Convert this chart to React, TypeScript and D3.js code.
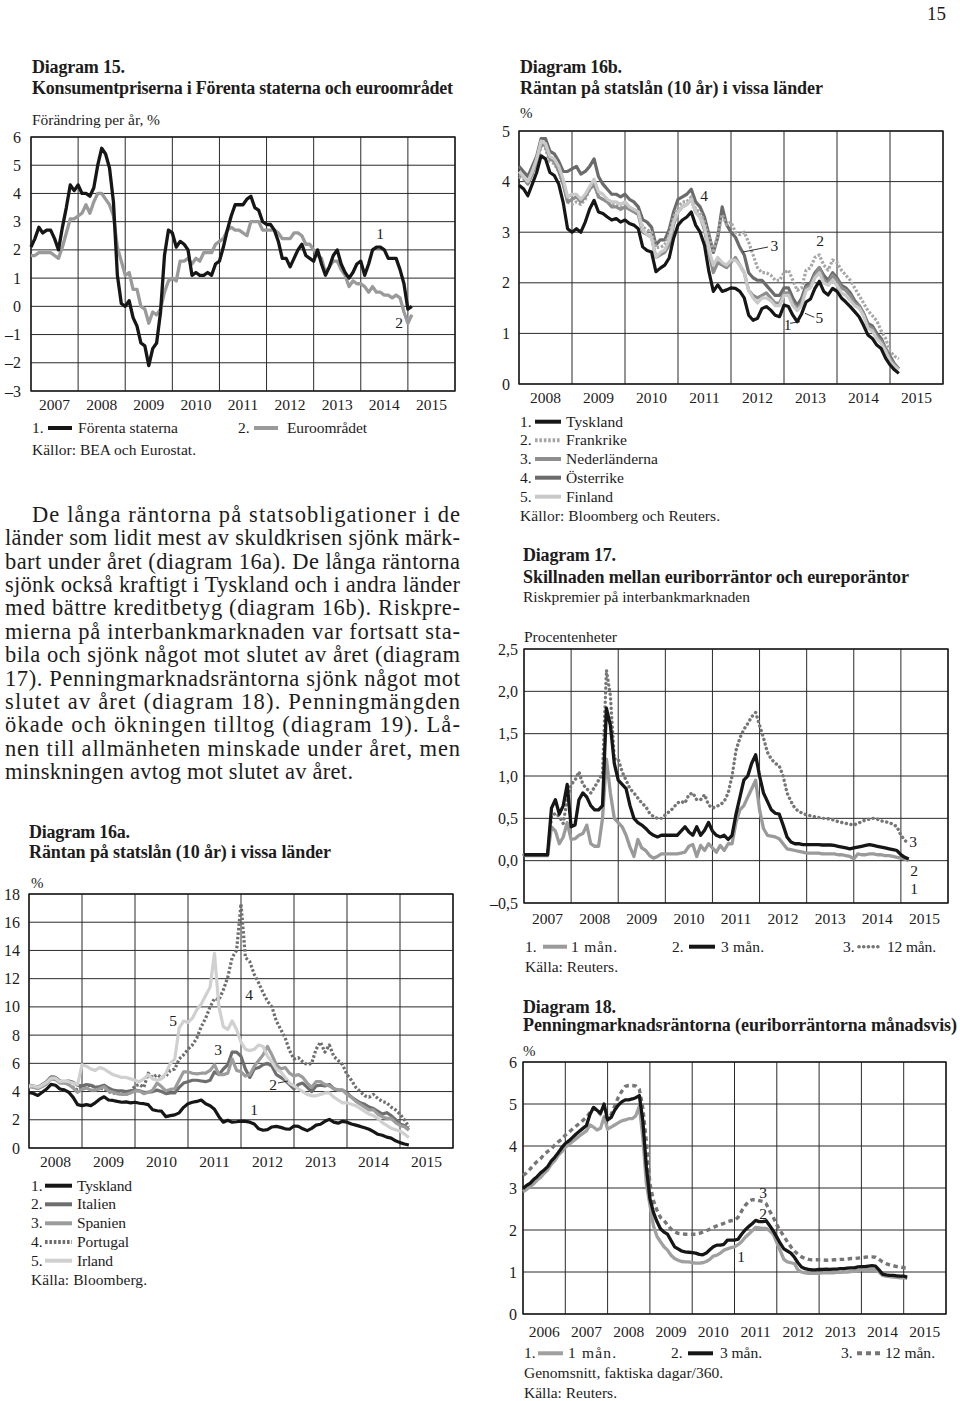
import React from 'react';
import * as d3 from 'd3';

const SERIF = "'Liberation Serif', 'Times New Roman', Times, serif";
const INK = '#1c1c1c';

// ---------- Diagram 15: CPI, yearly change %, monthly Jan 2007 – Feb 2015 ----------
const cpiStart = 2007;
const cpiUS = [
  2.1, 2.4, 2.8, 2.6, 2.7, 2.7, 2.4, 2.0, 2.8, 3.5, 4.3, 4.1,
  4.3, 4.0, 4.0, 3.9, 4.2, 5.0, 5.6, 5.4, 4.9, 3.7, 1.1, 0.1,
  0.0, 0.2, -0.4, -0.7, -1.3, -1.4, -2.1, -1.5, -1.3, -0.2, 1.8, 2.7,
  2.6, 2.1, 2.3, 2.2, 2.0, 1.1, 1.2, 1.1, 1.1, 1.2, 1.1, 1.5,
  1.6, 2.1, 2.7, 3.2, 3.6, 3.6, 3.6, 3.8, 3.9, 3.5, 3.4, 3.0,
  2.9, 2.9, 2.7, 2.3, 1.7, 1.7, 1.4, 1.7, 2.0, 2.2, 1.8, 1.7,
  1.6, 2.0, 1.5, 1.1, 1.4, 1.8, 2.0, 1.5, 1.2, 1.0, 1.2, 1.5,
  1.6, 1.1, 1.5, 2.0, 2.1, 2.1, 2.0, 1.7, 1.7, 1.7, 1.3, 0.8,
  -0.1, 0.0,
];
const cpiEuro = [
  1.8, 1.8, 1.9, 1.9, 1.9, 1.9, 1.8, 1.7, 2.1, 2.6, 3.1, 3.1,
  3.2, 3.3, 3.6, 3.3, 3.7, 4.0, 4.0, 3.8, 3.6, 3.2, 2.1, 1.6,
  1.1, 1.2, 0.6, 0.6, 0.0, -0.1, -0.6, -0.2, -0.3, -0.1, 0.5, 0.9,
  1.0, 0.9, 1.6, 1.6, 1.7, 1.5, 1.7, 1.6, 1.9, 1.9, 1.9, 2.2,
  2.3, 2.4, 2.7, 2.8, 2.7, 2.7, 2.6, 2.5, 3.0, 3.0, 3.0, 2.7,
  2.7, 2.7, 2.7, 2.6, 2.4, 2.4, 2.4, 2.6, 2.6, 2.5, 2.2, 2.2,
  2.0, 1.8, 1.7, 1.2, 1.4, 1.6, 1.6, 1.3, 1.1, 0.7, 0.9, 0.8,
  0.8, 0.7, 0.5, 0.7, 0.5, 0.5, 0.4, 0.4, 0.3, 0.4, 0.3, -0.2,
  -0.6, -0.3,
];
const ticks15 = [-3, -2, -1, 0, 1, 2, 3, 4, 5, 6];

// ---------- Diagram 16a / 16b: 10-year yields, monthly Jan 2008 – Mar 2015 ----------
const bondStart = 2008;
const bondTyskland = [
  3.93, 3.86, 3.72, 3.95, 4.18, 4.51, 4.45, 4.18, 4.12, 3.95, 3.59, 3.07,
  3.0, 3.07, 3.0, 3.2, 3.46, 3.63, 3.4, 3.37, 3.3, 3.24, 3.27, 3.2,
  3.24, 3.17, 3.14, 3.07, 2.71, 2.64, 2.61, 2.22, 2.29, 2.35, 2.49, 2.88,
  3.14, 3.24, 3.3, 3.4, 3.14, 3.0, 2.74, 2.22, 1.83, 1.96, 1.83, 1.86,
  1.9, 1.89, 1.83, 1.7, 1.36, 1.26, 1.3, 1.49, 1.53, 1.46, 1.36, 1.33,
  1.56, 1.53, 1.36, 1.23, 1.39, 1.62, 1.68, 1.89, 2.03, 1.83, 1.76, 1.89,
  1.83, 1.7, 1.62, 1.53, 1.43, 1.33, 1.16, 0.97, 0.9, 0.77, 0.7, 0.51,
  0.38, 0.28, 0.21,
];
const bondFrankrike = [
  4.1, 4.05, 3.95, 4.15, 4.35, 4.7, 4.65, 4.4, 4.35, 4.2, 3.95, 3.6,
  3.55, 3.6, 3.55, 3.65, 3.85, 3.95, 3.7, 3.65, 3.6, 3.55, 3.55, 3.5,
  3.55, 3.45, 3.45, 3.4, 3.1, 3.05, 3.0, 2.7, 2.7, 2.75, 2.95, 3.3,
  3.5, 3.6, 3.6, 3.7, 3.45, 3.4, 3.2, 2.9, 2.6, 2.95, 3.35, 3.15,
  3.2, 3.0, 2.95, 3.0, 2.8, 2.55, 2.3, 2.2, 2.2, 2.15, 2.05, 2.05,
  2.2, 2.25, 2.05, 1.85, 1.9, 2.25, 2.3, 2.5, 2.55, 2.35, 2.25, 2.45,
  2.4, 2.25, 2.15, 2.05, 1.9, 1.75, 1.6, 1.45, 1.35, 1.25, 1.05, 0.9,
  0.65, 0.55, 0.5,
];
const bondNederlanderna = [
  4.15, 4.1, 3.95, 4.15, 4.4, 4.75, 4.7, 4.45, 4.4, 4.2, 3.95, 3.6,
  3.65, 3.7, 3.6, 3.7, 3.85, 3.95, 3.7, 3.65, 3.6, 3.5, 3.5, 3.45,
  3.5, 3.45, 3.4, 3.35, 3.0, 2.95, 2.9, 2.5, 2.55, 2.6, 2.75, 3.15,
  3.4, 3.5, 3.55, 3.65, 3.4, 3.3, 3.05, 2.6, 2.2, 2.4, 2.35, 2.3,
  2.4, 2.5, 2.35, 2.2, 1.85, 1.75, 1.7, 1.75, 1.8, 1.7, 1.6, 1.6,
  1.8, 1.8, 1.6, 1.5, 1.6, 1.9, 1.95, 2.15, 2.3, 2.05, 2.0, 2.15,
  2.05, 1.9, 1.85, 1.75, 1.6, 1.55, 1.4, 1.15, 1.1, 0.95, 0.85, 0.7,
  0.5, 0.38, 0.3,
];
const bondOsterrike = [
  4.3, 4.2, 4.1, 4.3, 4.5, 4.85, 4.85, 4.6, 4.55, 4.4, 4.2, 4.2,
  4.25, 4.3, 4.15, 4.2, 4.3, 4.45, 4.1, 3.95, 3.85, 3.75, 3.75, 3.7,
  3.75, 3.65, 3.6, 3.5, 3.25, 3.2, 3.1, 2.75, 2.85, 2.85, 3.05, 3.4,
  3.65, 3.7, 3.75, 3.85, 3.6, 3.5, 3.3, 2.95, 2.6, 2.9, 3.5, 3.15,
  3.0, 2.9, 2.7, 2.55, 2.2, 2.1, 2.05, 2.05, 1.95, 1.85, 1.75, 1.75,
  1.9, 1.9, 1.7, 1.55, 1.7, 1.95, 2.0, 2.2, 2.3, 2.15, 2.05, 2.2,
  2.1, 1.95, 1.9, 1.8, 1.65, 1.55, 1.4, 1.2, 1.15, 1.0, 0.9, 0.7,
  0.55, 0.4, 0.3,
];
const bondFinland = [
  4.2, 4.1, 4.0, 4.2, 4.45, 4.8, 4.75, 4.5, 4.45, 4.3, 4.05, 3.7,
  3.75, 3.75, 3.65, 3.75, 3.9, 4.05, 3.8, 3.75, 3.65, 3.6, 3.6, 3.55,
  3.6, 3.5, 3.45, 3.4, 3.05, 2.95, 2.9, 2.5, 2.6, 2.65, 2.85, 3.2,
  3.4, 3.5, 3.55, 3.65, 3.4, 3.3, 3.1, 2.65, 2.35, 2.5, 2.4, 2.35,
  2.45, 2.45, 2.35, 2.2, 1.85, 1.7, 1.6, 1.7, 1.7, 1.65, 1.55, 1.55,
  1.75, 1.75, 1.55, 1.45, 1.55, 1.85, 1.9, 2.1, 2.2, 2.0, 1.95, 2.05,
  1.95, 1.8, 1.75, 1.65, 1.55, 1.5, 1.35, 1.1, 1.05, 0.9, 0.8, 0.65,
  0.45, 0.35, 0.28,
];
const bondItalien = [
  4.45, 4.4, 4.3, 4.5, 4.7, 5.05, 5.0, 4.75, 4.7, 4.75, 4.65, 4.45,
  4.4, 4.5, 4.45, 4.3, 4.35, 4.45, 4.25, 4.1, 4.05, 4.05, 4.0, 4.05,
  4.1, 4.05, 3.95, 3.95, 4.0, 4.1, 4.0, 3.85, 3.9, 3.9, 4.3, 4.6,
  4.7, 4.8, 4.8, 4.75, 4.7, 4.8, 5.4, 5.2, 5.6, 5.9, 6.8, 6.8,
  6.5, 5.6, 5.0, 5.6, 5.7, 5.9, 6.0, 5.8, 5.2, 5.0, 4.8, 4.5,
  4.2, 4.5, 4.6, 4.3, 4.0, 4.4, 4.45, 4.4, 4.5, 4.2, 4.1, 4.1,
  3.9, 3.6, 3.4, 3.2, 3.1, 2.9, 2.8, 2.6, 2.4, 2.5, 2.3, 2.0,
  1.7, 1.6, 1.3,
];
const bondSpanien = [
  4.35, 4.3, 4.2, 4.35, 4.55, 4.9, 4.85, 4.6, 4.6, 4.5, 4.25, 3.95,
  4.15, 4.25, 4.1, 4.1, 4.2, 4.35, 4.05, 3.95, 3.85, 3.8, 3.8, 3.9,
  4.05, 4.05, 3.85, 3.95, 4.1, 4.6, 4.35, 4.05, 4.15, 4.2, 4.8, 5.4,
  5.4, 5.3, 5.25, 5.3, 5.3, 5.5, 5.9, 5.2, 5.2, 5.3, 6.3, 5.5,
  5.4, 5.1, 5.2, 5.8, 6.2, 6.6, 7.2, 6.6, 5.9, 5.6, 5.7, 5.3,
  5.1, 5.2, 5.0, 4.6, 4.3, 4.7, 4.7, 4.5, 4.4, 4.2, 4.1, 4.1,
  3.8, 3.6, 3.3, 3.1, 2.9, 2.7, 2.7, 2.4, 2.2, 2.1, 2.1, 1.8,
  1.6, 1.5, 1.25,
];
const bondPortugal = [
  4.4, 4.35, 4.3, 4.45, 4.6, 5.0, 5.0, 4.7, 4.65, 4.5, 4.3, 4.1,
  4.3, 4.4, 4.45, 4.3, 4.2, 4.2, 4.0, 3.9, 3.85, 3.85, 3.8, 4.0,
  4.4, 4.5, 4.3, 5.3, 5.0, 5.2, 5.0, 5.1, 5.5, 5.6, 6.3, 6.6,
  7.0, 7.3, 7.8, 8.6, 9.2, 10.0, 10.6, 10.5, 11.2, 12.1, 13.5, 14.0,
  17.3, 13.5, 13.2, 12.3, 11.7, 11.0, 10.4, 10.0, 9.0, 8.4, 7.8, 6.9,
  6.3, 6.4, 6.1, 5.9, 6.0, 7.0, 7.5, 6.8, 7.3, 6.5, 6.2, 5.9,
  5.2, 4.8, 4.3, 4.0, 3.7, 3.6, 3.8, 3.5, 3.3, 3.2, 2.9, 2.7,
  2.4, 2.0, 1.5,
];
const bondIrland = [
  4.4, 4.4, 4.3, 4.45, 4.65, 4.95, 4.95, 4.7, 4.75, 4.7, 4.6, 4.5,
  5.9, 5.8, 5.6, 5.5, 5.7, 5.6, 5.4, 5.2, 5.1, 5.0, 5.0, 4.9,
  4.8, 4.7, 4.9, 5.2, 4.9, 4.8, 4.9, 5.3, 6.0, 6.3, 8.5, 9.0,
  8.9, 9.2, 9.8, 10.2, 10.8, 11.4, 13.8, 10.0, 8.6, 8.4, 9.0, 8.4,
  7.5, 7.0, 6.9, 7.0, 7.3, 7.2, 6.5, 6.1, 5.6, 5.4, 5.0, 4.6,
  4.4, 4.2, 4.0, 3.8, 3.7, 3.7, 3.8, 3.9, 3.9, 3.6, 3.4, 3.2,
  3.2, 3.1, 3.0, 2.8, 2.6, 2.4, 2.3, 2.1, 1.8, 1.6, 1.4, 1.3,
  1.2, 1.0, 0.75,
];
const ticks16a = [0, 2, 4, 6, 8, 10, 12, 14, 16, 18];
const ticks16b = [0, 1, 2, 3, 4, 5];

// ---------- Diagram 17: euribor minus eurepo, monthly Jan 2007 – Mar 2015 ----------
const spreadStart = 2007;
const spread1m = [
  0.06, 0.06, 0.06, 0.06, 0.06, 0.06, 0.06, 0.40, 0.35, 0.20, 0.28, 0.45,
  0.25, 0.26, 0.30, 0.32, 0.42, 0.20, 0.17, 0.17, 0.50, 1.20, 0.80, 0.50,
  0.45, 0.40, 0.30, 0.16, 0.05, 0.25, 0.15, 0.12, 0.06, 0.03, 0.05, 0.08,
  0.08, 0.08, 0.08, 0.08, 0.09, 0.10, 0.17, 0.19, 0.05, 0.18, 0.12, 0.20,
  0.15, 0.10, 0.18, 0.12, 0.20, 0.20, 0.45, 0.60, 0.65, 0.75, 0.85, 0.95,
  0.60, 0.38, 0.30, 0.29, 0.28, 0.26, 0.20, 0.14, 0.13, 0.12, 0.11, 0.10,
  0.09, 0.09, 0.09, 0.09, 0.08, 0.08, 0.08, 0.08, 0.07, 0.07, 0.06, 0.05,
  0.02, 0.08, 0.07, 0.07, 0.08, 0.08, 0.07, 0.07, 0.06, 0.06, 0.05, 0.04,
  0.03, 0.02, 0.00,
];
const spread3m = [
  0.07, 0.07, 0.07, 0.07, 0.07, 0.07, 0.07, 0.62, 0.72, 0.55, 0.65, 0.90,
  0.40, 0.42, 0.72, 0.80, 0.75, 0.65, 0.60, 0.60, 0.65, 1.80, 1.60, 1.15,
  0.95, 0.90, 0.85, 0.65, 0.50, 0.45, 0.42, 0.38, 0.33, 0.30, 0.28, 0.30,
  0.30, 0.30, 0.30, 0.30, 0.35, 0.40, 0.34, 0.30, 0.40, 0.30, 0.36, 0.45,
  0.35, 0.30, 0.28, 0.30, 0.25, 0.30, 0.55, 0.75, 0.95, 1.00, 1.15, 1.25,
  1.00, 0.80, 0.70, 0.60, 0.56, 0.55, 0.42, 0.28, 0.22, 0.20, 0.20, 0.19,
  0.19, 0.19, 0.19, 0.19, 0.185, 0.185, 0.185, 0.18, 0.17, 0.16, 0.15, 0.14,
  0.15, 0.16, 0.17, 0.18, 0.19, 0.18, 0.17, 0.16, 0.15, 0.14, 0.13, 0.12,
  0.07, 0.04, 0.02,
];
const spread12m = [
  0.07, 0.07, 0.07, 0.07, 0.07, 0.07, 0.07, 0.52, 0.56, 0.52, 0.44, 0.72,
  0.90, 0.95, 1.05, 0.90, 0.85, 0.80, 0.87, 0.95, 1.03, 2.25, 1.95, 1.20,
  1.20, 1.05, 0.95, 0.85, 0.80, 0.74, 0.68, 0.64, 0.56, 0.52, 0.50, 0.50,
  0.54, 0.58, 0.62, 0.68, 0.70, 0.68, 0.78, 0.80, 0.72, 0.72, 0.78, 0.66,
  0.62, 0.64, 0.66, 0.70, 0.80, 1.00, 1.30, 1.45, 1.55, 1.62, 1.70, 1.75,
  1.60, 1.45, 1.28, 1.20, 1.15, 1.12, 1.00, 0.80, 0.70, 0.62, 0.58, 0.56,
  0.54, 0.53, 0.52, 0.51, 0.50, 0.50, 0.49, 0.48, 0.46, 0.45, 0.44, 0.43,
  0.42, 0.44, 0.46, 0.48, 0.49, 0.50, 0.49, 0.47, 0.46, 0.45, 0.43, 0.40,
  0.30, 0.24, 0.20,
];
const ticks17 = [-0.5, 0, 0.5, 1, 1.5, 2, 2.5];

// ---------- Diagram 18: euribor rates, monthly Jan 2006 – Feb 2015 ----------
const euriborStart = 2006;
const euribor1m = [
  2.91, 2.96, 3.04, 3.10, 3.19, 3.25, 3.35, 3.43, 3.56, 3.65, 3.78, 3.86,
  3.97, 4.03, 4.10, 4.17, 4.24, 4.30, 4.36, 4.50, 4.45, 4.38, 4.42, 4.70,
  4.40, 4.45, 4.50, 4.55, 4.60, 4.62, 4.65, 4.65, 4.72, 4.95, 4.20, 3.10,
  2.60, 2.10, 1.85, 1.72, 1.60, 1.52, 1.40, 1.32, 1.28, 1.25, 1.24, 1.24,
  1.22, 1.21, 1.21, 1.22, 1.25, 1.30, 1.38, 1.40, 1.45, 1.52, 1.55, 1.58,
  1.60, 1.65, 1.72, 1.82, 1.90, 1.98, 2.06, 2.05, 2.04, 2.04, 1.98, 1.90,
  1.70, 1.50, 1.30, 1.24, 1.22, 1.20, 1.05, 1.00, 0.98, 0.97, 0.97, 0.97,
  0.97, 0.98, 0.98, 0.98, 0.98, 0.99, 0.99, 1.00, 1.00, 1.01, 1.02, 1.04,
  1.05, 1.05, 1.06, 1.06, 1.05, 1.00, 0.92, 0.90, 0.89, 0.88, 0.87, 0.86,
  0.86, 0.85,
];
const euribor3m = [
  2.99, 3.06, 3.11, 3.20, 3.27, 3.36, 3.43, 3.51, 3.64, 3.73, 3.84, 3.96,
  4.06, 4.12, 4.20, 4.28, 4.35, 4.42, 4.49, 4.75, 4.92, 4.85, 4.78, 5.00,
  4.62, 4.68, 4.85, 4.97, 5.05, 5.10, 5.10, 5.12, 5.15, 5.20, 4.60, 3.50,
  2.75, 2.42, 2.20, 2.03, 1.95, 1.90, 1.75, 1.60, 1.55, 1.50, 1.48, 1.47,
  1.46, 1.45, 1.42, 1.41, 1.45, 1.53, 1.60, 1.64, 1.64, 1.66, 1.76, 1.76,
  1.76, 1.78, 1.90, 2.00, 2.08, 2.15, 2.23, 2.20, 2.20, 2.22, 2.10, 1.98,
  1.83, 1.68, 1.55, 1.50, 1.45, 1.35, 1.22, 1.12, 1.08, 1.06, 1.05, 1.05,
  1.06, 1.06, 1.07, 1.06, 1.07, 1.07, 1.08, 1.08, 1.09, 1.10, 1.10, 1.12,
  1.13, 1.13, 1.14, 1.15, 1.14, 1.05, 0.95, 0.93, 0.92, 0.92, 0.91, 0.90,
  0.90, 0.88,
];
const euribor12m = [
  3.30, 3.36, 3.45, 3.55, 3.63, 3.70, 3.80, 3.87, 3.93, 4.02, 4.10, 4.16,
  4.26, 4.33, 4.40, 4.47, 4.54, 4.61, 4.68, 4.80, 4.90, 4.85, 4.75, 4.72,
  4.65, 4.75, 4.95, 5.15, 5.30, 5.42, 5.44, 5.44, 5.43, 5.35, 4.90, 4.10,
  3.10, 2.70, 2.47, 2.30, 2.23, 2.12, 2.02, 1.96, 1.92, 1.91, 1.90, 1.90,
  1.90, 1.90, 1.92, 1.95, 1.98, 2.02, 2.06, 2.10, 2.13, 2.16, 2.20, 2.22,
  2.23, 2.30, 2.45, 2.58, 2.68, 2.72, 2.72, 2.70, 2.68, 2.62, 2.45, 2.30,
  2.12, 1.98, 1.85, 1.72, 1.60, 1.50, 1.42, 1.36, 1.32, 1.30, 1.29, 1.29,
  1.29, 1.29, 1.28, 1.28, 1.29, 1.29, 1.30, 1.30, 1.31, 1.32, 1.32, 1.33,
  1.34, 1.35, 1.36, 1.36, 1.35, 1.30, 1.24, 1.20, 1.17, 1.15, 1.13, 1.12,
  1.10, 1.09,
];
const ticks18 = [0, 1, 2, 3, 4, 5, 6];

const paragraph = [
  'De långa räntorna på statsobligationer i de',
  'länder som lidit mest av skuldkrisen sjönk märk-',
  'bart under året (diagram 16a). De långa räntorna',
  'sjönk också kraftigt i Tyskland och i andra länder',
  'med bättre kreditbetyg (diagram 16b). Riskpre-',
  'mierna på interbankmarknaden var fortsatt sta-',
  'bila och sjönk något mot slutet av året (diagram',
  '17). Penningmarknadsräntorna sjönk något mot',
  'slutet av året (diagram 18). Penningmängden',
  'ökade och ökningen tilltog (diagram 19). Lå-',
  'nen till allmänheten minskade under året, men',
  'minskningen avtog mot slutet av året.',
];

type Series = {
  values: number[];
  start: number;
  color: string;
  width: number;
  dash?: string;
  cap?: 'butt' | 'round' | 'square';
};

type PlotProps = {
  left: number; top: number; right: number; bottom: number;
  xMin: number; xMax: number;
  ticks: number[];
  fmt?: (v: number) => string;
  labelEdge: number;
  yearBase: number;
  series: Series[];
};

const defFmt = (v: number) => (v < 0 ? '–' + Math.abs(v) : String(v));
const commaFmt = (v: number) => (v < 0 ? '–' : '') + Math.abs(v).toFixed(1).replace('.', ',');

function Plot(p: PlotProps) {
  const { left, top, right, bottom, xMin, xMax, ticks, labelEdge, yearBase, series } = p;
  const fmt = p.fmt || defFmt;
  const x = d3.scaleLinear().domain([xMin, xMax]).range([left, right]);
  const y = d3.scaleLinear().domain([ticks[0], ticks[ticks.length - 1]]).range([bottom, top]);
  const gridYears = d3.range(xMin, xMax + 1);
  const years = d3.range(xMin, xMax);
  return (
    <g>
      {ticks.map((v) => (
        <line key={'h' + v} x1={left} x2={right} y1={y(v)} y2={y(v)} stroke="#2a2a2a" strokeWidth={1} />
      ))}
      {gridYears.map((v) => (
        <line key={'v' + v} x1={x(v)} x2={x(v)} y1={top} y2={bottom} stroke="#2a2a2a" strokeWidth={1} />
      ))}
      <rect x={left} y={top} width={right - left} height={bottom - top} fill="none" stroke="#1a1a1a" strokeWidth={1.4} />
      {ticks.map((v) => (
        <text key={'t' + v} x={labelEdge} y={y(v) + 5.5} textAnchor="end" fontSize={16}>{fmt(v)}</text>
      ))}
      {years.map((yr) => (
        <text key={'y' + yr} x={x(yr + 0.5)} y={yearBase} textAnchor="middle" fontSize={15.5}>{yr}</text>
      ))}
      {series.map((s, i) => {
        const line = d3
          .line<number>()
          .x((_, j) => x(s.start + j / 12))
          .y((d) => y(d));
        return (
          <path
            key={i}
            d={line(s.values) || ''}
            fill="none"
            stroke={s.color}
            strokeWidth={s.width}
            strokeDasharray={s.dash}
            strokeLinecap={s.cap || 'butt'}
            strokeLinejoin="round"
          />
        );
      })}
    </g>
  );
}

function T(props: { x: number; y: number; s?: number; b?: boolean; w?: number; a?: string; children: any }) {
  const { x, y, s = 15.5, b = false, w, a, children } = props;
  return (
    <text
      x={x}
      y={y}
      fontSize={s}
      fontWeight={b ? 'bold' : 'normal'}
      textLength={w}
      lengthAdjust={w ? 'spacing' : undefined}
      textAnchor={a}
    >
      {children}
    </text>
  );
}

function Leg(props: {
  x: number; y: number; num: string; s1: number; s2: number; tx: number; label: string; w: number;
  color: string; dash?: string; sw?: number; cap?: 'butt' | 'round';
}) {
  const { x, y, num, s1, s2, tx, label, w, color, dash, sw = 4, cap = 'butt' } = props;
  return (
    <g>
      <T x={x} y={y + 5}>{num}</T>
      <line x1={s1} x2={s2} y1={y} y2={y} stroke={color} strokeWidth={sw} strokeDasharray={dash} strokeLinecap={cap} />
      <T x={tx} y={y + 5} w={w}>{label}</T>
    </g>
  );
}

const C_BLACK = '#161616';
const C_GRAY = '#9a9a9a';
const TS = 18; // title size

export default function App() {
  return (
    <svg
      width={960}
      height={1401}
      viewBox="0 0 960 1401"
      style={{ position: 'absolute', left: 0, top: 0 }}
      fontFamily={SERIF}
      fill={INK}
    >
      <rect width={960} height={1401} fill="#ffffff" />
      <T x={946} y={20} s={19} a="end">15</T>

      {/* ---------------- Diagram 15 ---------------- */}
      <T x={32} y={73} s={TS} b w={93}>Diagram 15.</T>
      <T x={32} y={94} s={TS} b w={421}>Konsumentpriserna i Förenta staterna och euroområdet</T>
      <T x={32} y={125} w={128}>Förändring per år, %</T>
      <Plot
        left={31} top={137} right={455} bottom={391}
        xMin={2007} xMax={2016} ticks={ticks15} labelEdge={21} yearBase={410}
        series={[
          { values: cpiEuro, start: cpiStart, color: C_GRAY, width: 3.3 },
          { values: cpiUS, start: cpiStart, color: C_BLACK, width: 3.3 },
        ]}
      />
      <T x={380} y={239} a="middle">1</T>
      <T x={399} y={328} a="middle">2</T>
      <Leg x={32} y={428} num="1." s1={48} s2={72} tx={78} label="Förenta staterna" w={100} color={C_BLACK} />
      <Leg x={238} y={428} num="2." s1={254} s2={278} tx={287} label="Euroområdet" w={80} color={C_GRAY} />
      <T x={32} y={455} w={164}>Källor: BEA och Eurostat.</T>

      {/* ---------------- Paragraph ---------------- */}
      {paragraph.map((line, i) => {
        const last = i === paragraph.length - 1;
        const x0 = i === 0 ? 32 : 5;
        const w = last ? 348 : 460 - x0;
        return (
          <text key={'p' + i} x={x0} y={521.7 + 23.4 * i} fontSize={22.5} textLength={w} lengthAdjust="spacing">
            {line}
          </text>
        );
      })}

      {/* ---------------- Diagram 16b ---------------- */}
      <T x={520} y={72.5} s={TS} b w={102}>Diagram 16b.</T>
      <T x={520} y={94} s={TS} b w={303}>Räntan på statslån (10 år) i vissa länder</T>
      <T x={520} y={118} s={15}>%</T>
      <Plot
        left={519} top={131} right={943} bottom={384}
        xMin={2008} xMax={2016} ticks={ticks16b} labelEdge={510} yearBase={403}
        series={[
          { values: bondOsterrike, start: bondStart, color: '#6b6b6b', width: 3.2 },
          { values: bondFrankrike, start: bondStart, color: '#a6a6a6', width: 3.2, dash: '2.5 1.8' },
          { values: bondNederlanderna, start: bondStart, color: '#8e8e8e', width: 3.2 },
          { values: bondFinland, start: bondStart, color: '#c9c9c9', width: 3.2 },
          { values: bondTyskland, start: bondStart, color: C_BLACK, width: 3.2 },
        ]}
      />
      <T x={704} y={200.7} a="middle">4</T>
      <T x={774.3} y={250.7} a="middle">3</T>
      <line x1={743} y1={252} x2={768} y2={247} stroke={INK} strokeWidth={0.9} />
      <T x={820} y={246} a="middle">2</T>
      <T x={819.3} y={322.7} a="middle">5</T>
      <line x1={805} y1={313.3} x2={814.3} y2={317.3} stroke={INK} strokeWidth={0.9} />
      <T x={787.7} y={330} a="middle">1</T>
      <line x1={790} y1={323.3} x2={800} y2={321.7} stroke={INK} strokeWidth={0.9} />
      <Leg x={520} y={421.7} num="1." s1={535} s2={561} tx={566} label="Tyskland" w={57} color={C_BLACK} />
      <Leg x={520} y={440.3} num="2." s1={535} s2={561} tx={566} label="Frankrike" w={61} color="#a6a6a6" dash="2.6 1.8" />
      <Leg x={520} y={459} num="3." s1={535} s2={561} tx={566} label="Nederländerna" w={92} color="#8e8e8e" />
      <Leg x={520} y={477.7} num="4." s1={535} s2={561} tx={566} label="Österrike" w={58} color="#6b6b6b" />
      <Leg x={520} y={496.7} num="5." s1={535} s2={561} tx={566} label="Finland" w={47} color="#c9c9c9" />
      <T x={520} y={521} w={200}>Källor: Bloomberg och Reuters.</T>

      {/* ---------------- Diagram 16a ---------------- */}
      <T x={29} y={837.5} s={TS} b w={101}>Diagram 16a.</T>
      <T x={29} y={858} s={TS} b w={302}>Räntan på statslån (10 år) i vissa länder</T>
      <T x={31} y={888} s={15}>%</T>
      <Plot
        left={29} top={894} right={453} bottom={1148}
        xMin={2008} xMax={2016} ticks={ticks16a} labelEdge={20} yearBase={1167}
        series={[
          { values: bondPortugal, start: bondStart, color: '#6e6e6e', width: 3.2, dash: '2.5 2' },
          { values: bondItalien, start: bondStart, color: '#6e6e6e', width: 3.2 },
          { values: bondSpanien, start: bondStart, color: '#9c9c9c', width: 3.2 },
          { values: bondIrland, start: bondStart, color: '#d0d0d0', width: 3.2 },
          { values: bondTyskland, start: bondStart, color: C_BLACK, width: 3.2 },
        ]}
      />
      <T x={173} y={1026} a="middle">5</T>
      <T x={218} y={1055} a="middle">3</T>
      <T x={249} y={1000} a="middle">4</T>
      <T x={273} y={1090} a="middle">2</T>
      <line x1={278} y1={1083} x2={288} y2={1081} stroke={INK} strokeWidth={0.9} />
      <T x={254} y={1115} a="middle">1</T>
      <Leg x={31} y={1185.7} num="1." s1={45} s2={72} tx={77} label="Tyskland" w={55} color={C_BLACK} />
      <Leg x={31} y={1204.3} num="2." s1={45} s2={72} tx={77} label="Italien" w={39} color="#6e6e6e" />
      <Leg x={31} y={1223.3} num="3." s1={45} s2={72} tx={77} label="Spanien" w={49} color="#9c9c9c" />
      <Leg x={31} y={1242} num="4." s1={45} s2={72} tx={77} label="Portugal" w={52} color="#6e6e6e" dash="2.6 1.8" />
      <Leg x={31} y={1260.7} num="5." s1={45} s2={72} tx={77} label="Irland" w={36} color="#d0d0d0" />
      <T x={31} y={1285} w={116}>Källa: Bloomberg.</T>

      {/* ---------------- Diagram 17 ---------------- */}
      <T x={523} y={561} s={TS} b w={93}>Diagram 17.</T>
      <T x={523} y={583} s={TS} b w={386}>Skillnaden mellan euriborräntor och eureporäntor</T>
      <T x={523} y={602} w={227}>Riskpremier på interbankmarknaden</T>
      <T x={524} y={641.5} w={93}>Procentenheter</T>
      <Plot
        left={524} top={649} right={948} bottom={903}
        xMin={2007} xMax={2016} ticks={ticks17} fmt={commaFmt} labelEdge={518} yearBase={923.5}
        series={[
          { values: spread12m, start: spreadStart, color: '#767676', width: 3.4, dash: '0.1 4.6', cap: 'round' },
          { values: spread1m, start: spreadStart, color: C_GRAY, width: 3.3 },
          { values: spread3m, start: spreadStart, color: C_BLACK, width: 3.3 },
        ]}
      />
      <T x={913} y={847} a="middle">3</T>
      <T x={914} y={876} a="middle">2</T>
      <T x={914} y={894} a="middle">1</T>
      <Leg x={525} y={946.7} num="1." s1={543} s2={567} tx={571} label="1 mån." w={46} color={C_GRAY} />
      <Leg x={672} y={946.7} num="2." s1={689} s2={715} tx={721} label="3 mån." w={43} color={C_BLACK} />
      <Leg x={843} y={946.7} num="3." s1={859} s2={882} tx={887} label="12 mån." w={49} color="#767676" dash="0.1 4.6" cap="round" sw={3.6} />
      <T x={525} y={972} w={93}>Källa: Reuters.</T>

      {/* ---------------- Diagram 18 ---------------- */}
      <T x={523} y={1012.5} s={TS} b w={93}>Diagram 18.</T>
      <T x={523} y={1031} s={TS} b w={434}>Penningmarknadsräntorna (euriborräntorna månadsvis)</T>
      <T x={523} y={1056} s={15}>%</T>
      <Plot
        left={523} top={1062} right={946} bottom={1314}
        xMin={2006} xMax={2016} ticks={ticks18} labelEdge={517} yearBase={1337}
        series={[
          { values: euribor1m, start: euriborStart, color: '#a0a0a0', width: 3.3 },
          { values: euribor12m, start: euriborStart, color: '#767676', width: 3.4, dash: '4.5 3.5' },
          { values: euribor3m, start: euriborStart, color: C_BLACK, width: 3.3 },
        ]}
      />
      <T x={763} y={1198} a="middle">3</T>
      <T x={763} y={1219} a="middle">2</T>
      <T x={741} y={1262} a="middle">1</T>
      <Leg x={524} y={1353.3} num="1." s1={538} s2={563} tx={568} label="1 mån." w={48} color="#a0a0a0" />
      <Leg x={671} y={1353.3} num="2." s1={688} s2={713} tx={720} label="3 mån." w={42} color={C_BLACK} />
      <Leg x={841} y={1353.3} num="3." s1={857} s2={880} tx={885} label="12 mån." w={50} color="#767676" dash="5 4" />
      <T x={524} y={1378} w={199}>Genomsnitt, faktiska dagar/360.</T>
      <T x={524} y={1398} w={93}>Källa: Reuters.</T>
    </svg>
  );
}
